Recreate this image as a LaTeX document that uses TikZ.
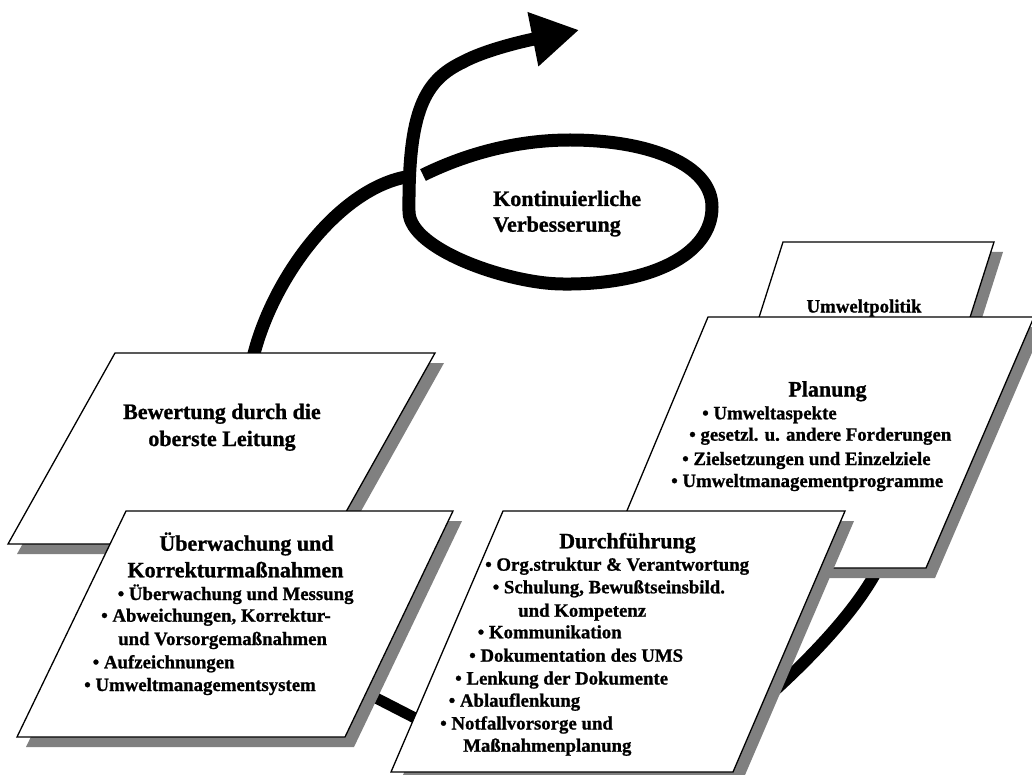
\documentclass[tikz,border=0pt]{standalone}
\usepackage{fontspec}
\setmainfont{Liberation Serif}[BoldFont={Liberation Serif Bold},BoldFeatures={FakeBold=1}]
\usetikzlibrary{arrows.meta}
\definecolor{shadowgray}{RGB}{128,128,128}
% a slanted sheet with a grey drop shadow, given its four corners
\newcommand{\sheetwithshadow}[4]{%
  \fill[shadowgray] ([shift={(9,10)}]#1) -- ([shift={(9,10)}]#2) -- ([shift={(9,10)}]#3) -- ([shift={(9,10)}]#4) -- cycle;
  \draw[sheet] (#1) -- (#2) -- (#3) -- (#4) -- cycle;}
\begin{document}
\begin{tikzpicture}[x=1pt,y=-1pt,
  sheet/.style={draw=black,line width=1.3pt,fill=white,line join=miter},
  flow/.style={draw=black,line width=13pt,line cap=butt},
  title/.style={font=\bfseries\fontsize{22}{26}\selectfont,inner sep=0pt,anchor=base},
  item/.style={font=\bfseries\fontsize{18.8}{22}\selectfont,inner sep=0pt,anchor=base west},
]
\useasboundingbox[fill=white] (0,0) rectangle (1032,775);

% corners of the sheets
\coordinate (pol-tl) at (783,242);  \coordinate (pol-tr) at (994,242);
\coordinate (pol-br) at (966,330);  \coordinate (pol-bl) at (755,330);
\coordinate (plan-tl) at (708,317); \coordinate (plan-tr) at (1034,317);
\coordinate (plan-br) at (926,568); \coordinate (plan-bl) at (603,568);
\coordinate (do-tl) at (503,511);   \coordinate (do-tr) at (845,511);
\coordinate (do-br) at (733,772);   \coordinate (do-bl) at (391,772);
\coordinate (rev-tl) at (115,353);  \coordinate (rev-tr) at (435,353);
\coordinate (rev-br) at (328,544);  \coordinate (rev-bl) at (8,544);
\coordinate (chk-tl) at (126,511);  \coordinate (chk-tr) at (453,511);
\coordinate (chk-br) at (345,737);  \coordinate (chk-bl) at (17,737);

% ends of the cycle strokes, tucked under the sheets
\coordinate (rev-out) at (252,362);
\coordinate (loop-in) at (412,176);
\coordinate (loop-start) at (423,175);
\coordinate (loop-tip) at (579,30);
\coordinate (chk-out) at (340,679.5);
\coordinate (do-in) at (450,736);
\coordinate (do-out) at (764,700);
\coordinate (plan-in) at (882,560);

% cycle strokes running behind the sheets
\draw[flow] (rev-out) .. controls (270,280) and (340,185) .. (loop-in);
\draw[flow,line width=11pt] (chk-out) -- (do-in);
\draw[flow,line width=12pt] (do-out) .. controls (800,668) and (860,610) .. (plan-in);

% sheets, back to front
\sheetwithshadow{pol-tl}{pol-tr}{pol-br}{pol-bl}
\sheetwithshadow{plan-tl}{plan-tr}{plan-br}{plan-bl}
\sheetwithshadow{do-tl}{do-tr}{do-br}{do-bl}
\sheetwithshadow{rev-tl}{rev-tr}{rev-br}{rev-bl}
\sheetwithshadow{chk-tl}{chk-tr}{chk-br}{chk-bl}

% improvement loop ending in the arrow
\draw[flow,-{Triangle[length=47pt,width=52pt]}] (loop-start)
  .. controls (470,152) and (520,140) .. (570,140)
  .. controls (650,140) and (712,165) .. (712,207)
  .. controls (712,255) and (650,285) .. (563,284)
  .. controls (510,284) and (410,250) .. (409,212)
  .. controls (408,110) and (425,80) .. (463,62)
  .. controls (485,50) and (524,41) .. (loop-tip);

% labels
\node[title,anchor=base west] (kvp-1) at (493,206) {Kontinuierliche};
\node[title,anchor=base west] (kvp-2) at (493,231.7) {Verbesserung};

\node[item,anchor=base] (pol) at (864,312.5) {Umweltpolitik};

\node[title] (plan-t) at (827.5,396.5) {Planung};
\node[item] (plan-1) at (702,419.3) {• Umweltaspekte};
\node[item] (plan-2) at (689,440.7) {• gesetzl. u. andere Forderungen};
\node[item] (plan-3) at (682,465) {• Zielsetzungen und Einzelziele};
\node[item] (plan-4) at (671,487) {• Umweltmanagementprogramme};

\node[title] (rev-1) at (222,419) {Bewertung durch die};
\node[title] (rev-2) at (222,446) {oberste Leitung};

\node[title] (chk-t1) at (246.5,550.7) {Überwachung und};
\node[title] (chk-t2) at (235.5,577.3) {Korrekturmaßnahmen};
\node[item] (chk-1) at (117.5,600) {• Überwachung und Messung};
\node[item] (chk-2) at (101,621.7) {• Abweichungen, Korrektur-};
\node[item] (chk-3) at (118,645) {und Vorsorgemaßnahmen};
\node[item] (chk-4) at (92.5,668.3) {• Aufzeichnungen};
\node[item] (chk-5) at (84,691) {• Umweltmanagementsystem};

\node[title] (do-t) at (627.5,548.3) {Durchführung};
\node[item] (do-1) at (485,570.7) {• Org.struktur \& Verantwortung};
\node[item] (do-2) at (492.5,593.3) {• Schulung, Bewußtseinsbild.};
\node[item] (do-3) at (518,616.7) {und Kompetenz};
\node[item] (do-4) at (477.5,638.3) {• Kommunikation};
\node[item] (do-5) at (469,661.7) {• Dokumentation des UMS};
\node[item] (do-6) at (455,684.5) {• Lenkung der Dokumente};
\node[item] (do-7) at (448.5,706.7) {• Ablauflenkung};
\node[item] (do-8) at (440,729.5) {• Notfallvorsorge und};
\node[item] (do-9) at (463,751.7) {Maßnahmenplanung};
\end{tikzpicture}
\end{document}
